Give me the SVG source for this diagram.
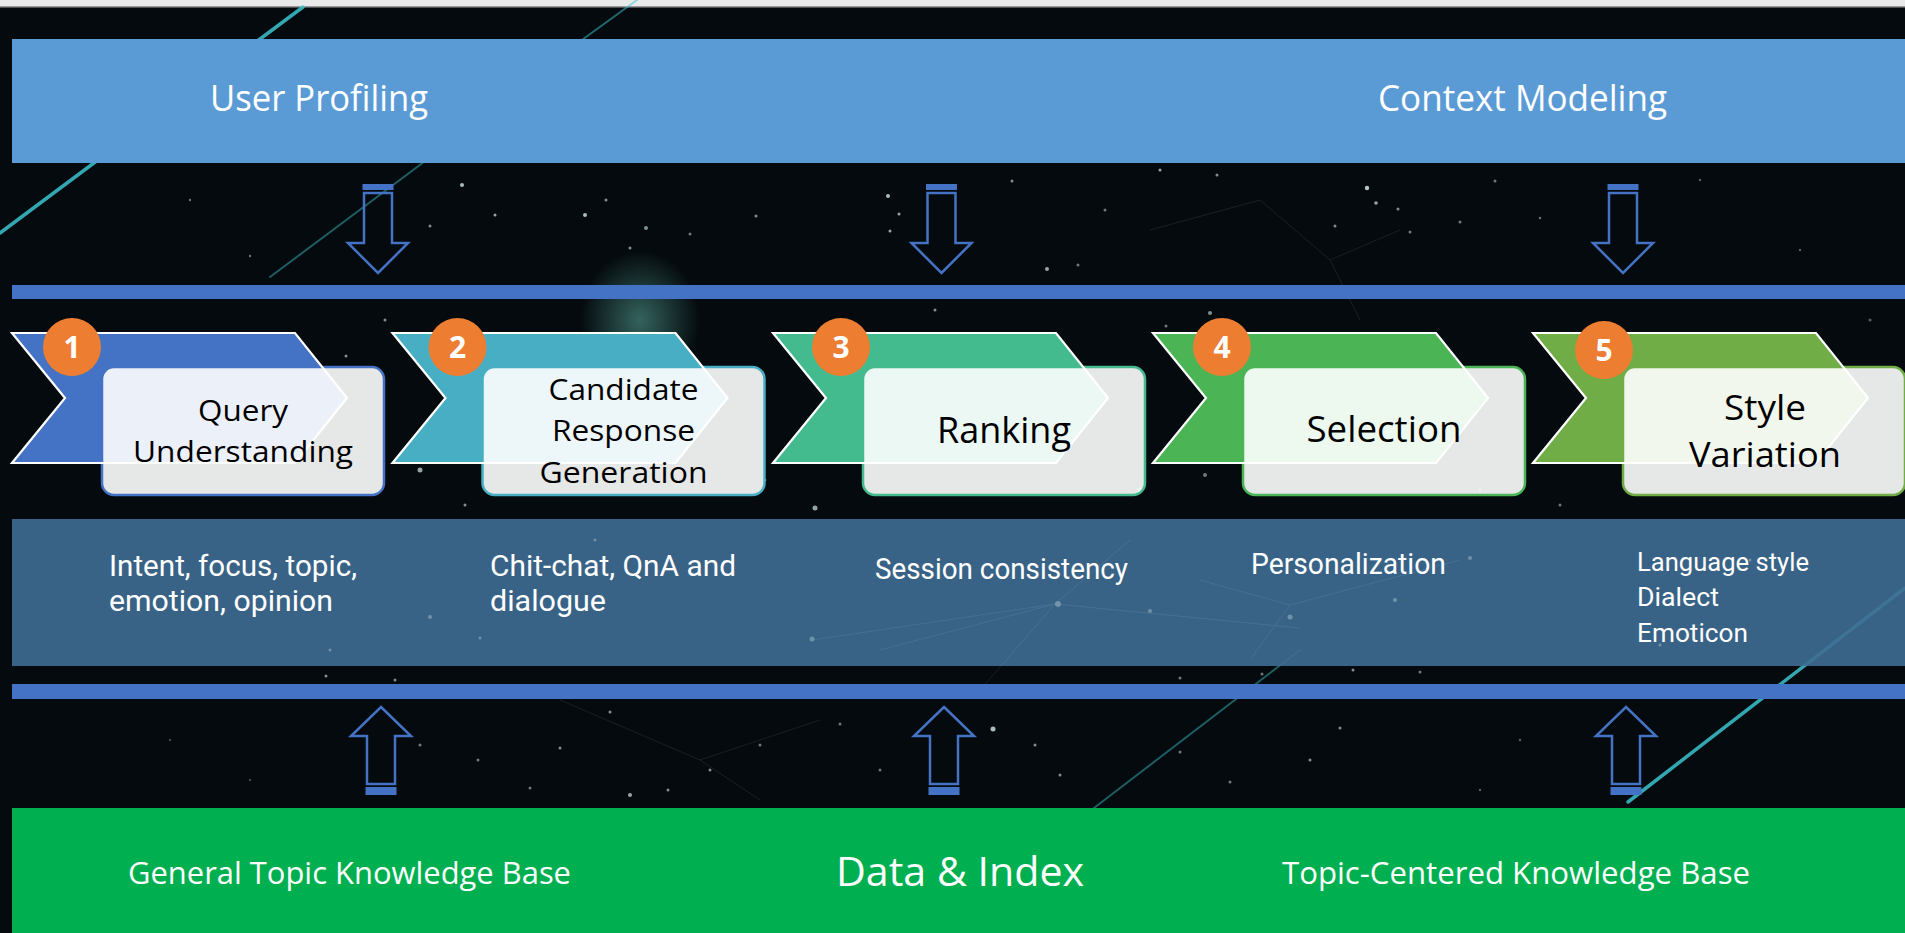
<svg xmlns="http://www.w3.org/2000/svg" width="1905" height="933" viewBox="0 0 1905 933">
<defs>
<style>
.band-top{fill:#5b9bd5}
.thin{fill:#4472c4}
.chev{stroke:none}
.chev-edge{fill:none;stroke:#ffffff;stroke-width:2.2;stroke-linejoin:miter}
.box{fill:#ffffff;fill-opacity:0.9;stroke-width:2.5}
.num-c{fill:#ed7d31}
.num{font-family:"Open Sans","Liberation Sans",sans-serif;font-weight:bold;font-size:30px;fill:#ffffff;text-anchor:middle}
.lbl{font-family:"Open Sans","Liberation Sans",sans-serif;fill:#000000;text-anchor:middle}
.wt{font-family:"Open Sans","Liberation Sans",sans-serif;fill:#ffffff}
.mid{font-family:Roboto,"Liberation Sans",sans-serif;fill:#ffffff}
.arrow{fill:none;stroke:#4472c4;stroke-width:2.5;stroke-linejoin:miter}
.cap{fill:#4472c4}
.star{fill:#d6e6ea}
.streak{fill:none;stroke:#3cc3cf;stroke-linecap:round}
.net{fill:none;stroke:#9fd0e6;stroke-width:1}
</style>
<radialGradient id="glow" cx="0.5" cy="0.5" r="0.5">
<stop offset="0" stop-color="#6fd0c0" stop-opacity="0.45"/>
<stop offset="1" stop-color="#6fd0c0" stop-opacity="0"/>
</radialGradient>
</defs>

<g id="background">
<rect x="0" y="0" width="1905" height="933" fill="#040a0d"/>
<rect x="0" y="0" width="1905" height="7" fill="#e9e9e9"/>
<rect x="0" y="6" width="1905" height="1.5" fill="#9a9a9a"/>
<path class="streak" d="M0,233 L303,7" stroke-width="3.5" opacity="0.85"/>
<path class="streak" d="M270,277 L480,120" stroke-width="2" opacity="0.45"/>
<path class="streak" d="M575,45 L637,0" stroke-width="2" opacity="0.5"/>
<path class="streak" d="M1628,802 L1905,588" stroke-width="3.5" opacity="0.85"/>
<path class="streak" d="M1094,808 L1300,650" stroke-width="2" opacity="0.45"/>
<ellipse cx="640" cy="320" rx="60" ry="70" fill="url(#glow)"/>
<g opacity="0.12" class="net">
<path d="M1260,200 L1330,260 L1400,230 M1330,260 L1360,320 M1150,230 L1260,200"/>
<path d="M560,700 L700,760 L820,720 M700,760 L760,800"/>
</g>
<g class="star">
<circle cx="462" cy="185" r="2" opacity="0.8"/><circle cx="495" cy="215" r="1.5" opacity="0.7"/>
<circle cx="430" cy="226" r="1.5" opacity="0.6"/><circle cx="585" cy="215" r="2" opacity="0.8"/>
<circle cx="606" cy="200" r="1.5" opacity="0.6"/><circle cx="646" cy="228" r="2" opacity="0.6"/>
<circle cx="630" cy="248" r="1.5" opacity="0.6"/><circle cx="690" cy="234" r="1.5" opacity="0.5"/>
<circle cx="888" cy="196" r="2" opacity="0.8"/><circle cx="899" cy="214" r="1.5" opacity="0.7"/>
<circle cx="890" cy="231" r="1.5" opacity="0.7"/><circle cx="1012" cy="181" r="1.5" opacity="0.6"/>
<circle cx="1047" cy="269" r="2" opacity="0.7"/><circle cx="1078" cy="265" r="1.5" opacity="0.5"/>
<circle cx="1105" cy="210" r="1.5" opacity="0.5"/><circle cx="1367" cy="188" r="2.2" opacity="0.85"/>
<circle cx="1376" cy="203" r="1.8" opacity="0.7"/><circle cx="1398" cy="209" r="1.5" opacity="0.6"/>
<circle cx="1335" cy="226" r="1.5" opacity="0.6"/><circle cx="1410" cy="232" r="1.5" opacity="0.5"/>
<circle cx="1495" cy="181" r="1.5" opacity="0.5"/><circle cx="1460" cy="222" r="1.5" opacity="0.5"/>
<circle cx="1160" cy="170" r="1.5" opacity="0.7"/><circle cx="1217" cy="175" r="1.5" opacity="0.6"/>
<circle cx="190" cy="200" r="1.2" opacity="0.5"/><circle cx="250" cy="256" r="1.2" opacity="0.5"/>
<circle cx="1700" cy="180" r="1.2" opacity="0.4"/><circle cx="1800" cy="250" r="1.2" opacity="0.4"/>
<circle cx="1540" cy="218" r="1.2" opacity="0.5"/><circle cx="756" cy="216" r="1.5" opacity="0.6"/>
<circle cx="1210" cy="313" r="2" opacity="0.6"/><circle cx="1166" cy="326" r="1.5" opacity="0.5"/>
<circle cx="935" cy="310" r="1.5" opacity="0.6"/><circle cx="1205" cy="475" r="2" opacity="0.5"/>
<circle cx="1140" cy="490" r="2.5" opacity="0.7"/><circle cx="815" cy="508" r="2.5" opacity="0.7"/>
<circle cx="765" cy="480" r="1.5" opacity="0.5"/><circle cx="420" cy="470" r="2.5" opacity="0.7"/>
<circle cx="465" cy="505" r="1.5" opacity="0.6"/><circle cx="385" cy="320" r="1.5" opacity="0.6"/>
<circle cx="346" cy="356" r="1.5" opacity="0.6"/><circle cx="1480" cy="490" r="1.5" opacity="0.5"/>
<circle cx="1560" cy="505" r="1.5" opacity="0.5"/><circle cx="1870" cy="320" r="1.5" opacity="0.4"/>
<circle cx="326" cy="676" r="1.5" opacity="0.6"/><circle cx="395" cy="680" r="1.5" opacity="0.6"/>
<circle cx="1180" cy="678" r="1.5" opacity="0.5"/><circle cx="1262" cy="674" r="1.5" opacity="0.5"/>
<circle cx="1353" cy="670" r="1.5" opacity="0.6"/><circle cx="1420" cy="672" r="1.5" opacity="0.5"/>
<circle cx="993" cy="729" r="2.5" opacity="0.8"/><circle cx="1035" cy="745" r="1.5" opacity="0.6"/>
<circle cx="1060" cy="775" r="1.5" opacity="0.6"/><circle cx="880" cy="770" r="1.5" opacity="0.5"/>
<circle cx="1340" cy="728" r="1.5" opacity="0.6"/><circle cx="1310" cy="760" r="1.5" opacity="0.6"/>
<circle cx="1180" cy="752" r="1.5" opacity="0.5"/><circle cx="1230" cy="782" r="1.5" opacity="0.5"/>
<circle cx="630" cy="795" r="2" opacity="0.7"/><circle cx="668" cy="790" r="1.5" opacity="0.6"/>
<circle cx="710" cy="770" r="1.5" opacity="0.6"/><circle cx="560" cy="748" r="1.5" opacity="0.6"/>
<circle cx="610" cy="712" r="1.5" opacity="0.6"/><circle cx="420" cy="745" r="1.5" opacity="0.5"/>
<circle cx="478" cy="760" r="1.5" opacity="0.5"/><circle cx="530" cy="788" r="1.5" opacity="0.5"/>
<circle cx="760" cy="745" r="1.5" opacity="0.5"/><circle cx="840" cy="724" r="1.5" opacity="0.5"/>
<circle cx="1520" cy="740" r="1.2" opacity="0.4"/><circle cx="1480" cy="790" r="1.2" opacity="0.4"/>
<circle cx="170" cy="740" r="1.2" opacity="0.3"/><circle cx="250" cy="780" r="1.2" opacity="0.3"/>
</g>
</g>

<g id="user-context-band">
<rect class="band-top" x="12" y="39" width="1893" height="124"/>
<text class="wt" x="210" y="111" font-size="36" textLength="218" lengthAdjust="spacingAndGlyphs">User Profiling</text>
<text class="wt" x="1378" y="111" font-size="36" textLength="289" lengthAdjust="spacingAndGlyphs">Context Modeling</text>
</g>

<g id="upper-rule">
<rect class="thin" x="12" y="285" width="1893" height="14"/>
</g>

<g id="step-1">
<path class="chev" fill="#4472c4" d="M12,333 H295 L347,398 L295,463 H12 L65,398 Z"/>
<rect class="box" x="102" y="367" width="282" height="128" rx="12" stroke="#4472c4"/>
<path class="chev-edge" d="M12,333 H295 L347,398 L295,463 H12 L65,398 Z"/>
<circle class="num-c" cx="72" cy="347" r="29"/>
<text class="num" x="72" y="358">1</text>
<text class="lbl" x="243" y="421" font-size="30" textLength="90" lengthAdjust="spacingAndGlyphs">Query</text>
<text class="lbl" x="243" y="462" font-size="30" textLength="220" lengthAdjust="spacingAndGlyphs">Understanding</text>
</g>

<g id="step-2">
<path class="chev" fill="#47aec3" d="M392.5,333 H675.5 L727.5,398 L675.5,463 H392.5 L445.5,398 Z"/>
<rect class="box" x="482.5" y="367" width="282" height="128" rx="12" stroke="#47aec3"/>
<path class="chev-edge" d="M392.5,333 H675.5 L727.5,398 L675.5,463 H392.5 L445.5,398 Z"/>
<circle class="num-c" cx="457.5" cy="347" r="29"/>
<text class="num" x="457.5" y="358">2</text>
<text class="lbl" x="623.5" y="400" font-size="30" textLength="150" lengthAdjust="spacingAndGlyphs">Candidate</text>
<text class="lbl" x="623.5" y="441" font-size="30" textLength="143" lengthAdjust="spacingAndGlyphs">Response</text>
<text class="lbl" x="623.5" y="483" font-size="30" textLength="168" lengthAdjust="spacingAndGlyphs">Generation</text>
</g>

<g id="step-3">
<path class="chev" fill="#44bb8e" d="M773,333 H1056 L1108,398 L1056,463 H773 L826,398 Z"/>
<rect class="box" x="863" y="367" width="282" height="128" rx="12" stroke="#44bb8e"/>
<path class="chev-edge" d="M773,333 H1056 L1108,398 L1056,463 H773 L826,398 Z"/>
<circle class="num-c" cx="841" cy="347" r="29"/>
<text class="num" x="841" y="358">3</text>
<text class="lbl" x="1004" y="443" font-size="37" textLength="134" lengthAdjust="spacingAndGlyphs">Ranking</text>
</g>

<g id="step-4">
<path class="chev" fill="#4bb455" d="M1153,333 H1436 L1488,398 L1436,463 H1153 L1206,398 Z"/>
<rect class="box" x="1243" y="367" width="282" height="128" rx="12" stroke="#4bb455"/>
<path class="chev-edge" d="M1153,333 H1436 L1488,398 L1436,463 H1153 L1206,398 Z"/>
<circle class="num-c" cx="1222" cy="347" r="29"/>
<text class="num" x="1222" y="358">4</text>
<text class="lbl" x="1384" y="442" font-size="37" textLength="155" lengthAdjust="spacingAndGlyphs">Selection</text>
</g>

<g id="step-5">
<path class="chev" fill="#70ad47" d="M1533,333 H1816 L1868,398 L1816,463 H1533 L1586,398 Z"/>
<rect class="box" x="1623" y="367" width="282" height="128" rx="12" stroke="#70ad47"/>
<path class="chev-edge" d="M1533,333 H1816 L1868,398 L1816,463 H1533 L1586,398 Z"/>
<circle class="num-c" cx="1604" cy="350" r="29"/>
<text class="num" x="1604" y="361">5</text>
<text class="lbl" x="1765" y="420" font-size="34" textLength="82" lengthAdjust="spacingAndGlyphs">Style</text>
<text class="lbl" x="1765" y="467" font-size="34" textLength="152" lengthAdjust="spacingAndGlyphs">Variation</text>
</g>

<g id="detail-band">
<rect x="12" y="519" width="1893" height="147" fill="#3f6d93" fill-opacity="0.9"/>
<g class="net" opacity="0.12">
<path d="M1055,604 L1300,628 M1055,604 L980,690 M1055,604 L1130,540 M1055,604 L880,650 M812,640 L1055,604"/>
<path d="M1290,605 L1460,560 M1290,605 L1250,660 M1290,605 L1200,580"/>
</g>
<g class="star" opacity="0.35">
<circle cx="1058" cy="604" r="3"/><circle cx="812" cy="639" r="2.5"/><circle cx="1150" cy="611" r="2"/>
<circle cx="1290" cy="617" r="2.5"/><circle cx="1395" cy="600" r="2"/><circle cx="1470" cy="558" r="2"/>
<circle cx="430" cy="617" r="2"/><circle cx="480" cy="638" r="1.5"/><circle cx="330" cy="650" r="1.5"/>
<circle cx="595" cy="540" r="1.5"/><circle cx="1660" cy="645" r="1.5"/><circle cx="1750" cy="560" r="1.5"/>
</g>
<text class="mid" x="109" y="576" font-size="29" textLength="248" lengthAdjust="spacingAndGlyphs">Intent, focus, topic,</text>
<text class="mid" x="109" y="611" font-size="29" textLength="224" lengthAdjust="spacingAndGlyphs">emotion, opinion</text>
<text class="mid" x="490" y="576" font-size="29" textLength="246" lengthAdjust="spacingAndGlyphs">Chit-chat, QnA and</text>
<text class="mid" x="490" y="611" font-size="29" textLength="116" lengthAdjust="spacingAndGlyphs">dialogue</text>
<text class="mid" x="875" y="579" font-size="29" textLength="253" lengthAdjust="spacingAndGlyphs">Session consistency</text>
<text class="mid" x="1251" y="574" font-size="29" textLength="195" lengthAdjust="spacingAndGlyphs">Personalization</text>
<text class="mid" x="1637" y="571" font-size="25" textLength="172" lengthAdjust="spacingAndGlyphs">Language style</text>
<text class="mid" x="1637" y="606" font-size="25" textLength="82" lengthAdjust="spacingAndGlyphs">Dialect</text>
<text class="mid" x="1637" y="642" font-size="25" textLength="111" lengthAdjust="spacingAndGlyphs">Emoticon</text>
</g>

<g id="lower-rule">
<rect class="thin" x="12" y="684" width="1893" height="15"/>
</g>

<g id="data-index-band">
<rect x="12" y="808" width="1893" height="125" fill="#00b050"/>
<text class="wt" x="128" y="884" font-size="31" textLength="443" lengthAdjust="spacingAndGlyphs">General Topic Knowledge Base</text>
<text class="wt" x="836" y="886" font-size="41" textLength="248" lengthAdjust="spacingAndGlyphs">Data &amp; Index</text>
<text class="wt" x="1282" y="884" font-size="31" textLength="468" lengthAdjust="spacingAndGlyphs">Topic-Centered Knowledge Base</text>
</g>

<g id="connectors">
<g id="down-arrow-1">
<rect class="cap" x="362.5" y="184" width="31" height="6"/>
<path class="arrow" d="M364,193 H392 V243 H408 L378,273 L348,243 H364 Z"/>
</g>
<g id="down-arrow-2">
<rect class="cap" x="926" y="184" width="31" height="6"/>
<path class="arrow" d="M927.5,193 H955.5 V243 H971.5 L941.5,273 L911.5,243 H927.5 Z"/>
</g>
<g id="down-arrow-3">
<rect class="cap" x="1607.5" y="184" width="31" height="6"/>
<path class="arrow" d="M1609,193 H1637 V243 H1653 L1623,273 L1593,243 H1609 Z"/>
</g>
<g id="up-arrow-1">
<rect class="cap" x="365.5" y="787" width="31" height="8"/>
<path class="arrow" d="M381,707 L411,736 H395 V784 H367 V736 H351 Z"/>
</g>
<g id="up-arrow-2">
<rect class="cap" x="928.5" y="787" width="31" height="8"/>
<path class="arrow" d="M944,707 L974,736 H958 V784 H930 V736 H914 Z"/>
</g>
<g id="up-arrow-3">
<rect class="cap" x="1610.5" y="787" width="31" height="8"/>
<path class="arrow" d="M1626,707 L1656,736 H1640 V784 H1612 V736 H1596 Z"/>
</g>
</g>
</svg>
